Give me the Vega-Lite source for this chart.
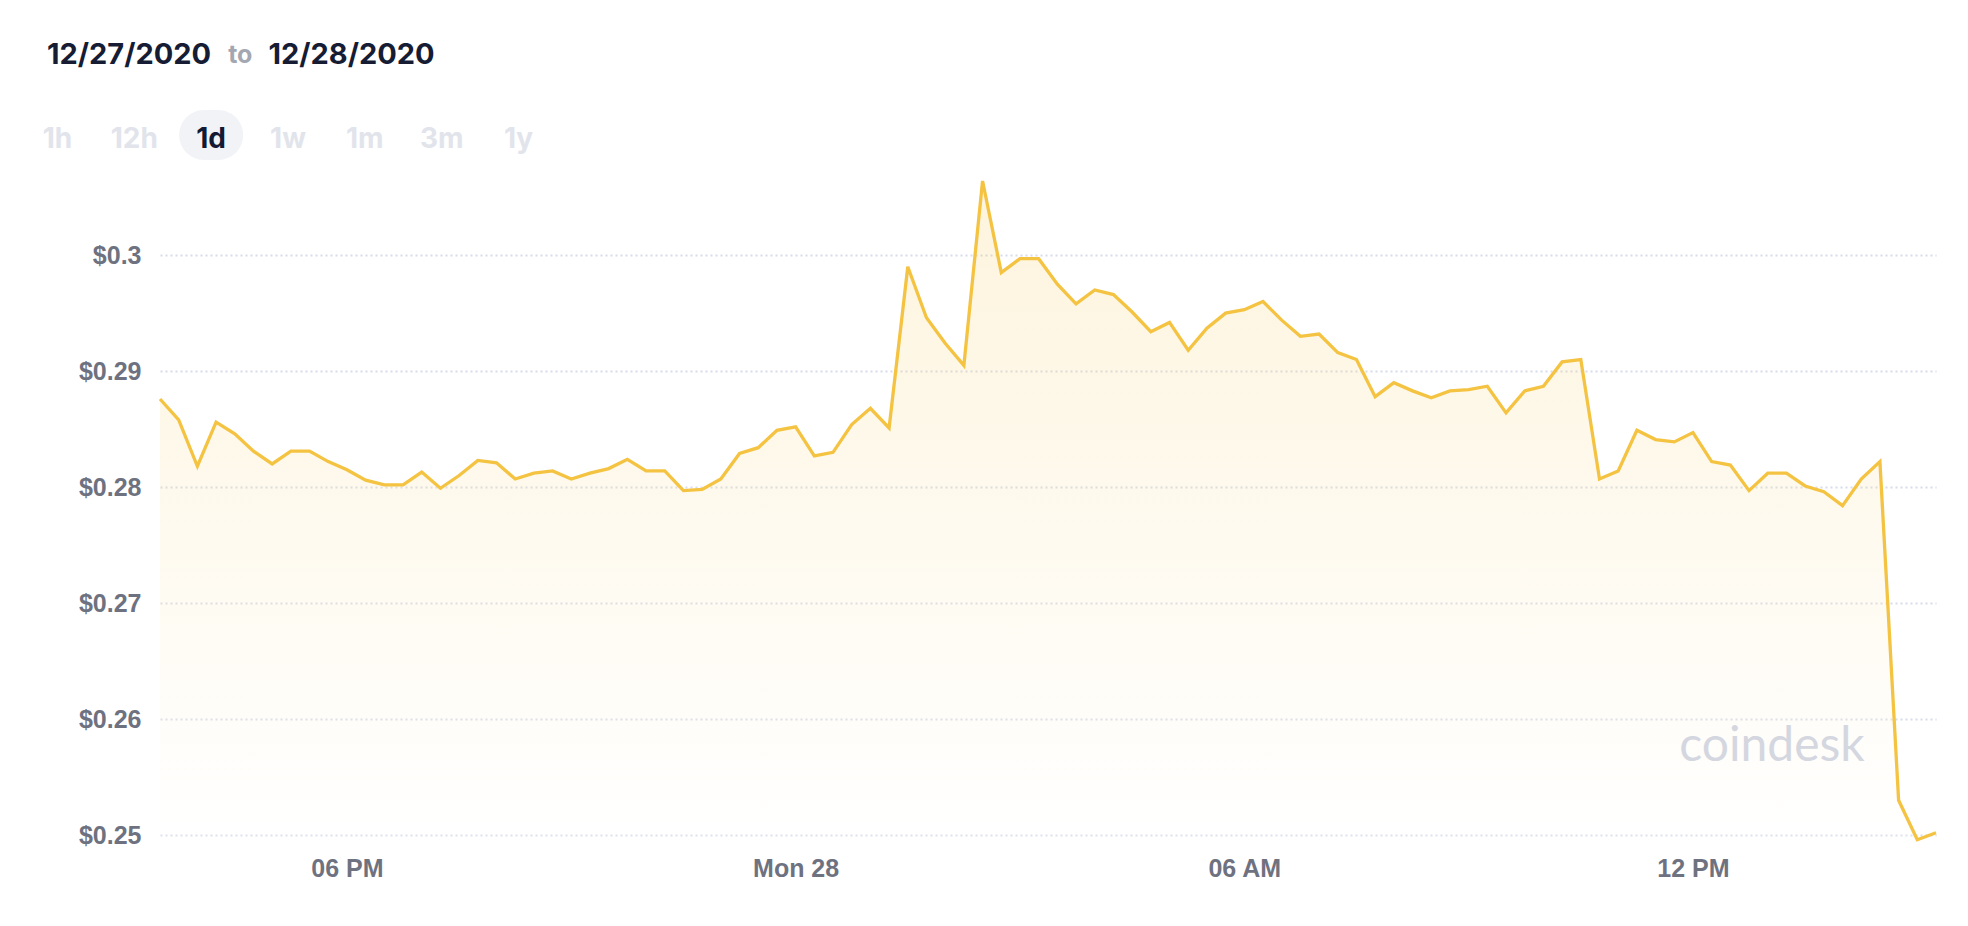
{
  "$schema": "https://vega.github.io/schema/vega-lite/v6.json",
  "padding": {"left": 17, "top": 8, "right": 0, "bottom": 0},
  "background": "white",
  "spacing": 14,
  "bounds": "full",
  "resolve": {"scale": {"color": "independent", "size": "independent", "x": "independent", "y": "independent"}},
  "config": {"view": {"stroke": null}, "font": "Liberation Sans"},
  "datasets": {
    "header": [
      {"part": "12/27/2020", "role": "date"},
      {"part": "to", "role": "sep"},
      {"part": "12/28/2020", "role": "date"}
    ],
    "ranges": [
      {"range": "1h", "selected": "no"},
      {"range": "12h", "selected": "no"},
      {"range": "1d", "selected": "yes"},
      {"range": "1w", "selected": "no"},
      {"range": "1m", "selected": "no"},
      {"range": "3m", "selected": "no"},
      {"range": "1y", "selected": "no"}
    ],
    "watermark": [
      {"t": "2020-12-28T11:49:00Z", "price": 0.25637, "brand": "coindesk"}
    ],
    "price": [
      {"t": "2020-12-27T15:30:00Z", "price": 0.2876},
      {"t": "2020-12-27T15:45:00Z", "price": 0.2858},
      {"t": "2020-12-27T16:00:00Z", "price": 0.2818},
      {"t": "2020-12-27T16:15:00Z", "price": 0.2856},
      {"t": "2020-12-27T16:30:00Z", "price": 0.2846},
      {"t": "2020-12-27T16:45:00Z", "price": 0.2831},
      {"t": "2020-12-27T17:00:00Z", "price": 0.2820},
      {"t": "2020-12-27T17:15:00Z", "price": 0.2831},
      {"t": "2020-12-27T17:30:00Z", "price": 0.2831},
      {"t": "2020-12-27T17:45:00Z", "price": 0.2822},
      {"t": "2020-12-27T18:00:00Z", "price": 0.2815},
      {"t": "2020-12-27T18:15:00Z", "price": 0.2806},
      {"t": "2020-12-27T18:30:00Z", "price": 0.2802},
      {"t": "2020-12-27T18:45:00Z", "price": 0.2802},
      {"t": "2020-12-27T19:00:00Z", "price": 0.2813},
      {"t": "2020-12-27T19:15:00Z", "price": 0.2799},
      {"t": "2020-12-27T19:30:00Z", "price": 0.2810},
      {"t": "2020-12-27T19:45:00Z", "price": 0.2823},
      {"t": "2020-12-27T20:00:00Z", "price": 0.2821},
      {"t": "2020-12-27T20:15:00Z", "price": 0.2807},
      {"t": "2020-12-27T20:30:00Z", "price": 0.2812},
      {"t": "2020-12-27T20:45:00Z", "price": 0.2814},
      {"t": "2020-12-27T21:00:00Z", "price": 0.2807},
      {"t": "2020-12-27T21:15:00Z", "price": 0.2812},
      {"t": "2020-12-27T21:30:00Z", "price": 0.2816},
      {"t": "2020-12-27T21:45:00Z", "price": 0.2824},
      {"t": "2020-12-27T22:00:00Z", "price": 0.2814},
      {"t": "2020-12-27T22:15:00Z", "price": 0.2814},
      {"t": "2020-12-27T22:30:00Z", "price": 0.2797},
      {"t": "2020-12-27T22:45:00Z", "price": 0.2798},
      {"t": "2020-12-27T23:00:00Z", "price": 0.2807},
      {"t": "2020-12-27T23:15:00Z", "price": 0.2829},
      {"t": "2020-12-27T23:30:00Z", "price": 0.2834},
      {"t": "2020-12-27T23:45:00Z", "price": 0.2849},
      {"t": "2020-12-28T00:00:00Z", "price": 0.2852},
      {"t": "2020-12-28T00:15:00Z", "price": 0.2827},
      {"t": "2020-12-28T00:30:00Z", "price": 0.2830},
      {"t": "2020-12-28T00:45:00Z", "price": 0.2854},
      {"t": "2020-12-28T01:00:00Z", "price": 0.2868},
      {"t": "2020-12-28T01:15:00Z", "price": 0.2851},
      {"t": "2020-12-28T01:30:00Z", "price": 0.2990},
      {"t": "2020-12-28T01:45:00Z", "price": 0.2946},
      {"t": "2020-12-28T02:00:00Z", "price": 0.2924},
      {"t": "2020-12-28T02:15:00Z", "price": 0.2905},
      {"t": "2020-12-28T02:30:00Z", "price": 0.3064},
      {"t": "2020-12-28T02:45:00Z", "price": 0.2985},
      {"t": "2020-12-28T03:00:00Z", "price": 0.2997},
      {"t": "2020-12-28T03:15:00Z", "price": 0.2997},
      {"t": "2020-12-28T03:30:00Z", "price": 0.2975},
      {"t": "2020-12-28T03:45:00Z", "price": 0.2958},
      {"t": "2020-12-28T04:00:00Z", "price": 0.2970},
      {"t": "2020-12-28T04:15:00Z", "price": 0.2966},
      {"t": "2020-12-28T04:30:00Z", "price": 0.2951},
      {"t": "2020-12-28T04:45:00Z", "price": 0.2934},
      {"t": "2020-12-28T05:00:00Z", "price": 0.2942},
      {"t": "2020-12-28T05:15:00Z", "price": 0.2918},
      {"t": "2020-12-28T05:30:00Z", "price": 0.2937},
      {"t": "2020-12-28T05:45:00Z", "price": 0.2950},
      {"t": "2020-12-28T06:00:00Z", "price": 0.2953},
      {"t": "2020-12-28T06:15:00Z", "price": 0.2960},
      {"t": "2020-12-28T06:30:00Z", "price": 0.2944},
      {"t": "2020-12-28T06:45:00Z", "price": 0.2930},
      {"t": "2020-12-28T07:00:00Z", "price": 0.2932},
      {"t": "2020-12-28T07:15:00Z", "price": 0.2916},
      {"t": "2020-12-28T07:30:00Z", "price": 0.2910},
      {"t": "2020-12-28T07:45:00Z", "price": 0.2878},
      {"t": "2020-12-28T08:00:00Z", "price": 0.2890},
      {"t": "2020-12-28T08:15:00Z", "price": 0.2883},
      {"t": "2020-12-28T08:30:00Z", "price": 0.2877},
      {"t": "2020-12-28T08:45:00Z", "price": 0.2883},
      {"t": "2020-12-28T09:00:00Z", "price": 0.2884},
      {"t": "2020-12-28T09:15:00Z", "price": 0.2887},
      {"t": "2020-12-28T09:30:00Z", "price": 0.2864},
      {"t": "2020-12-28T09:45:00Z", "price": 0.2883},
      {"t": "2020-12-28T10:00:00Z", "price": 0.2887},
      {"t": "2020-12-28T10:15:00Z", "price": 0.2908},
      {"t": "2020-12-28T10:30:00Z", "price": 0.2910},
      {"t": "2020-12-28T10:45:00Z", "price": 0.2807},
      {"t": "2020-12-28T11:00:00Z", "price": 0.2814},
      {"t": "2020-12-28T11:15:00Z", "price": 0.2849},
      {"t": "2020-12-28T11:30:00Z", "price": 0.2841},
      {"t": "2020-12-28T11:45:00Z", "price": 0.2839},
      {"t": "2020-12-28T12:00:00Z", "price": 0.2847},
      {"t": "2020-12-28T12:15:00Z", "price": 0.2822},
      {"t": "2020-12-28T12:30:00Z", "price": 0.2819},
      {"t": "2020-12-28T12:45:00Z", "price": 0.2797},
      {"t": "2020-12-28T13:00:00Z", "price": 0.2812},
      {"t": "2020-12-28T13:15:00Z", "price": 0.2812},
      {"t": "2020-12-28T13:30:00Z", "price": 0.2801},
      {"t": "2020-12-28T13:45:00Z", "price": 0.2796},
      {"t": "2020-12-28T14:00:00Z", "price": 0.2784},
      {"t": "2020-12-28T14:15:00Z", "price": 0.2807},
      {"t": "2020-12-28T14:30:00Z", "price": 0.2822},
      {"t": "2020-12-28T14:45:00Z", "price": 0.2530},
      {"t": "2020-12-28T15:00:00Z", "price": 0.2496},
      {"t": "2020-12-28T15:15:00Z", "price": 0.2502}
    ]
  },
  "vconcat": [
    {
      "width": 445,
      "height": 88,
      "data": {"name": "header"},
      "mark": {"type": "text", "font": "Inter", "fontWeight": "bold", "baseline": "middle", "dy": 3},
      "encoding": {
        "x": {"field": "part", "type": "nominal", "sort": null, "scale": {"type": "point", "padding": 0, "range": [-31, 191.5]}, "axis": null},
        "text": {"field": "part"},
        "color": {"field": "role", "type": "nominal", "scale": {"domain": ["date", "sep"], "range": ["#161c34", "#a4a7b1"]}, "legend": null},
        "size": {"field": "role", "type": "ordinal", "scale": {"domain": ["date", "sep"], "range": [29, 25]}, "legend": null}
      }
    },
    {
      "width": 538,
      "height": 50,
      "data": {"name": "ranges"},
      "encoding": {
        "x": {
          "field": "range", "type": "nominal", "axis": null,
          "scale": {
            "type": "band",
            "domain": ["1h", "12h", "1d", "1w", "1m", "3m", "1y"],
            "range": [-141, 397],
            "paddingInner": 0.168, "paddingOuter": 0.084
          }
        }
      },
      "layer": [
        {
          "transform": [{"filter": "datum.selected == 'yes'"}],
          "mark": {"type": "rect", "cornerRadius": 25, "color": "#f2f3f7"}
        },
        {
          "mark": {"type": "text", "font": "Inter", "fontWeight": "bold", "fontSize": 28, "baseline": "middle", "dy": 5},
          "encoding": {
            "text": {"field": "range"},
            "color": {"field": "selected", "type": "nominal", "scale": {"domain": ["no", "yes"], "range": ["#e2e4ec", "#131a33"]}, "legend": null}
          }
        }
      ]
    },
    {
      "width": 1776,
      "height": 668,
      "data": {"name": "price"},
      "encoding": {
        "x": {
          "field": "t", "type": "temporal",
          "scale": {"type": "utc", "nice": false},
          "axis": {
            "title": null, "domain": false, "ticks": false, "grid": false,
            "labelFont": "Liberation Sans", "labelFontWeight": "bold", "labelFontSize": 25,
            "labelColor": "#6e7280", "labelPadding": 14, "labelFlush": false, "labelOverlap": false,
            "values": [
              {"year": 2020, "month": 12, "date": 27, "hours": 18, "utc": true},
              {"year": 2020, "month": 12, "date": 28, "hours": 0, "utc": true},
              {"year": 2020, "month": 12, "date": 28, "hours": 6, "utc": true},
              {"year": 2020, "month": 12, "date": 28, "hours": 12, "utc": true}
            ],
            "labelExpr": "utchours(datum.value) == 0 ? utcFormat(datum.value, '%a %d') : utcFormat(datum.value, '%I %p')"
          }
        },
        "y": {
          "field": "price", "type": "quantitative",
          "scale": {"domain": [0.2494, 0.307], "zero": false, "nice": false},
          "axis": {
            "title": null, "domain": false, "ticks": false,
            "values": [0.25, 0.26, 0.27, 0.28, 0.29, 0.3],
            "format": "$.2~f",
            "labelFont": "Liberation Sans", "labelFontWeight": "bold", "labelFontSize": 25,
            "labelColor": "#6e7280", "labelPadding": 19,
            "gridDash": [2, 3], "gridColor": "#d8dcea", "gridWidth": 2,
            "minExtent": 143
          }
        }
      },
      "layer": [
        {
          "mark": {
            "type": "area",
            "fillOpacity": 0.18,
            "color": {
              "gradient": "linear", "x1": 0, "y1": 0, "x2": 0, "y2": 1,
              "stops": [
                {"offset": 0, "color": "#f5c342"},
                {"offset": 1, "color": "#ffffff"}
              ]
            }
          },
          "encoding": {"y2": {"datum": 0.2494}}
        },
        {
          "data": {"name": "watermark"},
          "mark": {"type": "text", "font": "Lato", "fontSize": 48, "color": "#d4d7df", "align": "left", "baseline": "alphabetic"},
          "encoding": {
            "text": {"field": "brand", "type": "nominal"}
          }
        },
        {
          "mark": {"type": "line", "color": "#f5c342", "strokeWidth": 3.3}
        }
      ]
    }
  ]
}
